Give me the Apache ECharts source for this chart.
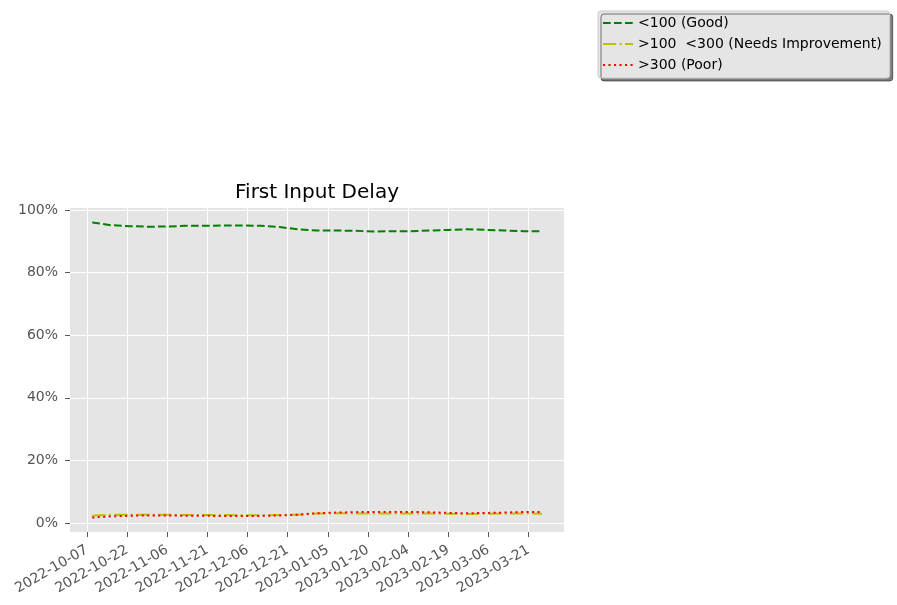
<!DOCTYPE html>
<html>
<head>
<meta charset="utf-8">
<script src="https://cdn.jsdelivr.net/npm/echarts@6/dist/echarts.min.js"></script>
<style>
  html, body { margin: 0; padding: 0; background: #ffffff; }
  #chart { width: 897px; height: 605px; }
</style>
</head>
<body>
<div id="chart"></div>
<script>
// ---- Data ----
const dates = ['2022-10-09','2022-10-16','2022-10-23','2022-10-30','2022-11-06','2022-11-13','2022-11-20','2022-11-27','2022-12-04','2022-12-11','2022-12-18','2022-12-25','2023-01-01','2023-01-08','2023-01-15','2023-01-22','2023-01-29','2023-02-05','2023-02-12','2023-02-19','2023-02-26','2023-03-05','2023-03-12','2023-03-19','2023-03-26'];
const good = [96.1,95.2,94.9,94.7,94.8,95.0,95.0,95.1,95.1,95.0,94.6,93.9,93.5,93.5,93.4,93.2,93.3,93.3,93.5,93.7,93.9,93.7,93.5,93.3,93.3];
const needsImprovement = [2.3,2.6,2.65,2.65,2.6,2.55,2.55,2.5,2.45,2.45,2.55,2.65,3.0,3.1,3.05,3.0,3.05,3.05,3.0,2.95,2.85,2.95,3.0,3.05,2.95];
const poor = [1.7,2.1,2.3,2.4,2.4,2.3,2.3,2.2,2.2,2.25,2.4,2.65,3.1,3.3,3.45,3.5,3.5,3.5,3.4,3.2,3.1,3.2,3.3,3.5,3.5];
const seriesNames = ['<100 (Good)', '>100  <300 (Needs Improvement)', '>300 (Poor)'];
const xTickLabels = ['2022-10-07','2022-10-22','2022-11-06','2022-11-21','2022-12-06','2022-12-21','2023-01-05','2023-01-20','2023-02-04','2023-02-19','2023-03-06','2023-03-21'];
const yTicks = [0, 20, 40, 60, 80, 100];

// ---- Helpers ----
const DAY = 86400000;
const baseT = Date.parse(xTickLabels[0] + 'T00:00:00Z');
const toDay = s => Math.round((Date.parse(s + 'T00:00:00Z') - baseT) / DAY);
const xVals = dates.map(toDay);
const xTickVals = xTickLabels.map(toDay);
const labelFor = {};
xTickVals.forEach((v, i) => { labelFor[v] = xTickLabels[i]; });
const pairs = arr => arr.map((v, i) => [xVals[i], v]);

const FONT = 'DejaVu Sans';
const chart = echarts.init(document.getElementById('chart'), null, { renderer: 'canvas' });

chart.setOption({
  animation: false,
  backgroundColor: '#ffffff',
  title: {
    text: 'First Input Delay',
    left: 317,
    textAlign: 'center',
    top: 183,
    padding: 0,
    textStyle: { fontFamily: FONT, fontSize: 20, fontWeight: 'normal', color: '#000000' }
  },
  legend: {
    orient: 'vertical',
    left: 598,
    top: 11,
    padding: [5, 8, 6, 4],
    itemWidth: 30,
    itemHeight: 14,
    itemGap: 7,
    backgroundColor: '#E5E5E5',
    borderColor: '#cccccc',
    borderWidth: 1,
    borderRadius: 3,
    shadowColor: 'rgba(0,0,0,0.5)',
    shadowBlur: 0,
    shadowOffsetX: 3,
    shadowOffsetY: 3,
    itemStyle: { opacity: 0, borderWidth: 0 },
    textStyle: { fontFamily: FONT, fontSize: 14, color: '#000000' },
    data: seriesNames
  },
  grid: {
    show: true,
    left: 70,
    right: 333,
    top: 208,
    bottom: 73,
    backgroundColor: '#E5E5E5',
    borderWidth: 0,
    containLabel: false
  },
  xAxis: {
    type: 'value',
    min: -6.3,
    max: 178.2,
    axisLine: { show: false, onZero: false },
    axisTick: { show: true, inside: false, length: 5, customValues: xTickVals, lineStyle: { color: '#555555', width: 1 } },
    splitLine: { show: true, customValues: xTickVals, lineStyle: { color: '#ffffff', width: 1 } },
    axisLabel: {
      customValues: xTickVals,
      rotate: 30,
      margin: 17,
      color: '#555555',
      fontFamily: FONT,
      fontSize: 14,
      formatter: v => labelFor[Math.round(v)] || ''
    }
  },
  yAxis: {
    type: 'value',
    min: -2.9,
    max: 100.7,
    axisLine: { show: false, onZero: false },
    axisTick: { show: true, inside: false, length: 5, customValues: yTicks, lineStyle: { color: '#555555', width: 1 } },
    splitLine: { show: true, customValues: yTicks, lineStyle: { color: '#ffffff', width: 1 } },
    axisLabel: {
      customValues: yTicks,
      margin: 12,
      color: '#555555',
      fontFamily: FONT,
      fontSize: 14,
      formatter: v => Math.round(v) + '%'
    }
  },
  series: [
    {
      name: seriesNames[0], type: 'line', data: pairs(good),
      symbol: 'none', showSymbol: false, smooth: false,
      itemStyle: { color: '#008000' },
      lineStyle: { color: '#008000', width: 2, type: [7.7, 3.3], cap: 'butt' }
    },
    {
      name: seriesNames[1], type: 'line', data: pairs(needsImprovement),
      symbol: 'none', showSymbol: false, smooth: false,
      itemStyle: { color: '#BFBF00' },
      lineStyle: { color: '#BFBF00', width: 2, type: [13.3, 3.3, 2.1, 3.3], cap: 'butt' }
    },
    {
      name: seriesNames[2], type: 'line', data: pairs(poor),
      symbol: 'none', showSymbol: false, smooth: false,
      itemStyle: { color: '#FF0000' },
      lineStyle: { color: '#FF0000', width: 2, type: [2.1, 3.4], cap: 'butt' }
    }
  ]
});
</script>
</body>
</html>
